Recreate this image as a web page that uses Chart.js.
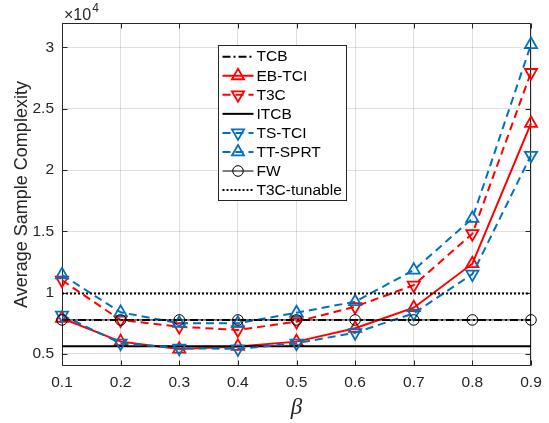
<!DOCTYPE html>
<html>
<head>
<meta charset="utf-8">
<script src="https://cdn.jsdelivr.net/npm/chart.js@4/dist/chart.umd.min.js"></script>
<style>
  html, body { margin: 0; padding: 0; background: #ffffff; }
  #wrap { width: 549px; height: 423px; }
</style>
</head>
<body>
<div id="wrap"><canvas id="chart" width="549" height="423"></canvas></div>
<script>
// Trade-off parameter beta on the x axis
const betas = [0.1, 0.2, 0.3, 0.4, 0.5, 0.6, 0.7, 0.8, 0.9];
const xTickLabels = ['0.1', '0.2', '0.3', '0.4', '0.5', '0.6', '0.7', '0.8', '0.9'];

// Average sample complexity of each algorithm
const tcb        = [7750, 7750, 7750, 7750, 7750, 7750, 7750, 7750, 7750];
const ebTci      = [7900, 5990, 5380, 5600, 5990, 7080, 8760, 12350, 23800];
const t3c        = [11000, 7750, 7210, 6940, 7620, 8840, 10600, 14800, 27960];
const itcb       = [5620, 5620, 5620, 5620, 5620, 5620, 5620, 5620, 5620];
const tsTci      = [8150, 5860, 5450, 5400, 5860, 6720, 8300, 11500, 21200];
const ttSprt     = [11450, 8380, 7490, 7490, 8350, 9250, 11830, 16050, 30240];
const fw         = [7760, 7760, 7760, 7760, 7760, 7760, 7760, 7760, 7760];
const t3cTunable = [9920, 9920, 9920, 9920, 9920, 9920, 9920, 9920, 9920];

// y axis ticks, shown in units of 10^4
const yTicks = [5000, 10000, 15000, 20000, 25000, 30000];
const yTickLabels = ['0.5', '1', '1.5', '2', '2.5', '3'];
const yMin = 4000, yMax = 32000;

const RED = '#ff0000';
const BLUE = '#0072bd';
const BLACK = '#000000';
const AXIS = '#262626';
const FONT = '"Liberation Sans", Arial, Helvetica, sans-serif';

function pts(values) {
  return values.map((v, i) => ({ x: betas[i], y: v }));
}

function series(label, values, color, opts) {
  return Object.assign({
    label,
    data: pts(values),
    borderColor: color,
    backgroundColor: 'rgba(0,0,0,0)',
    pointBorderColor: color,
    pointBackgroundColor: 'rgba(0,0,0,0)',
    borderWidth: 2,
    pointBorderWidth: 1.8,
    pointRadius: 0,
    pointHoverRadius: 0,
    borderDash: [],
    tension: 0,
    fill: false,
    clip: false
  }, opts);
}

const datasets = [
  series('TCB', tcb, BLACK, { borderDash: [8, 3, 2, 3] }),
  series('EB-TCI', ebTci, RED, { pointStyle: 'triangle', pointRadius: 7, pointRotation: 0 }),
  series('T3C', t3c, RED, { borderDash: [8, 5], pointStyle: 'triangle', pointRadius: 7, pointRotation: 180 }),
  series('ITCB', itcb, BLACK, {}),
  series('TS-TCI', tsTci, BLUE, { borderDash: [8, 5], pointStyle: 'triangle', pointRadius: 7, pointRotation: 180 }),
  series('TT-SPRT', ttSprt, BLUE, { borderDash: [8, 5], pointStyle: 'triangle', pointRadius: 7, pointRotation: 0 }),
  series('FW', fw, BLACK, { borderWidth: 1, pointBorderWidth: 1, pointStyle: 'circle', pointRadius: 5.3 }),
  series('T3C-tunable', t3cTunable, BLACK, { borderDash: [2, 2] })
];
// later series are painted over earlier ones
datasets.forEach((d, i) => { d.order = datasets.length - i; });

// axes box with inward tick marks on all four sides
const framePlugin = {
  id: 'frame',
  beforeDatasetsDraw(chart) {
    const { ctx, chartArea: a, scales: { x, y } } = chart;
    const L = Math.round(a.left) + 0.5, R = Math.round(a.right) - 0.5;
    const T = Math.round(a.top) + 0.5, B = Math.round(a.bottom) - 0.5;
    ctx.save();
    ctx.strokeStyle = AXIS;
    ctx.lineWidth = 1;
    ctx.setLineDash([]);
    ctx.beginPath();
    ctx.rect(L, T, R - L, B - T);
    const tl = 5;
    x.ticks.forEach(t => {
      const px = Math.round(x.getPixelForValue(t.value)) + 0.5;
      ctx.moveTo(px, B); ctx.lineTo(px, B - tl);
      ctx.moveTo(px, T); ctx.lineTo(px, T + tl);
    });
    y.ticks.forEach(t => {
      const py = Math.round(y.getPixelForValue(t.value)) + 0.5;
      ctx.moveTo(L, py); ctx.lineTo(L + tl, py);
      ctx.moveTo(R, py); ctx.lineTo(R - tl, py);
    });
    ctx.stroke();
    ctx.restore();
  },
  afterDraw(chart) {
    const { ctx, chartArea: a } = chart;
    ctx.save();
    // exponent of the y axis
    ctx.fillStyle = AXIS;
    ctx.textBaseline = 'alphabetic';
    ctx.textAlign = 'left';
    ctx.font = '16px ' + FONT;
    ctx.fillText('\u00d710', a.left + 2, 19.5);
    const w = ctx.measureText('\u00d710').width;
    ctx.font = '12px ' + FONT;
    ctx.fillText('4', a.left + 2 + w + 1, 12);

    // legend box
    const box = { l: 218.5, t: 45.5, r: 346.5, b: 200.5 };
    ctx.fillStyle = '#ffffff';
    ctx.fillRect(box.l, box.t, box.r - box.l, box.b - box.t);
    ctx.strokeStyle = AXIS;
    ctx.lineWidth = 1;
    ctx.setLineDash([]);
    ctx.strokeRect(box.l, box.t, box.r - box.l, box.b - box.t);

    const x0 = 222.5, x1 = 253.5, tx = 256.5;
    chart.data.datasets.forEach((ds, i) => {
      const yy = 56.7 + i * 19.05;
      ctx.strokeStyle = ds.borderColor;
      ctx.lineWidth = ds.borderWidth;
      ctx.setLineDash(ds.borderDash || []);
      ctx.beginPath();
      ctx.moveTo(x0, yy);
      ctx.lineTo(x1, yy);
      ctx.stroke();
      ctx.setLineDash([]);
      if (ds.pointRadius > 0) {
        ctx.fillStyle = 'rgba(0,0,0,0)';
        ctx.strokeStyle = ds.pointBorderColor;
        ctx.lineWidth = ds.pointBorderWidth;
        Chart.helpers.drawPoint(ctx, {
          pointStyle: ds.pointStyle,
          rotation: ds.pointRotation || 0,
          radius: ds.pointRadius,
          borderWidth: ds.pointBorderWidth
        }, (x0 + x1) / 2, yy);
      }
      ctx.fillStyle = '#000000';
      ctx.font = '15.5px ' + FONT;
      ctx.textBaseline = 'middle';
      ctx.textAlign = 'left';
      ctx.fillText(ds.label, tx, yy + 0.5);
    });
    ctx.restore();
  }
};

new Chart(document.getElementById('chart'), {
  type: 'line',
  data: { datasets },
  plugins: [framePlugin],
  options: {
    responsive: false,
    devicePixelRatio: 1,
    animation: false,
    events: [],
    layout: { padding: { top: 23, right: 18, left: 0, bottom: 0 } },
    plugins: { legend: { display: false }, tooltip: { enabled: false } },
    scales: {
      x: {
        type: 'linear',
        min: betas[0],
        max: betas[betas.length - 1],
        afterBuildTicks: s => { s.ticks = betas.map(v => ({ value: v })); },
        afterFit: s => { s.height = 57; },
        ticks: {
          autoSkip: false,
          maxRotation: 0,
          padding: 7,
          color: AXIS,
          font: { family: FONT, size: 15.5 },
          callback: (v, i) => xTickLabels[i]
        },
        grid: { color: 'rgba(38,38,38,0.15)', lineWidth: 1, drawTicks: false },
        border: { display: false },
        title: {
          display: true,
          text: '\u03b2',
          color: AXIS,
          font: { family: '"Liberation Serif", "DejaVu Serif", serif', size: 23, style: 'italic' },
          padding: { top: 0, bottom: 1 }
        }
      },
      y: {
        type: 'linear',
        min: yMin,
        max: yMax,
        afterBuildTicks: s => { s.ticks = yTicks.map(v => ({ value: v })); },
        afterFit: s => { s.width = 62; },
        ticks: {
          autoSkip: false,
          padding: 8,
          color: AXIS,
          font: { family: FONT, size: 15.5 },
          callback: (v, i) => yTickLabels[i]
        },
        grid: { color: 'rgba(38,38,38,0.15)', lineWidth: 1, drawTicks: false },
        border: { display: false },
        title: {
          display: true,
          text: 'Average Sample Complexity',
          color: AXIS,
          font: { family: FONT, size: 18 },
          padding: { top: 11, bottom: 0 }
        }
      }
    }
  }
});
</script>
</body>
</html>
